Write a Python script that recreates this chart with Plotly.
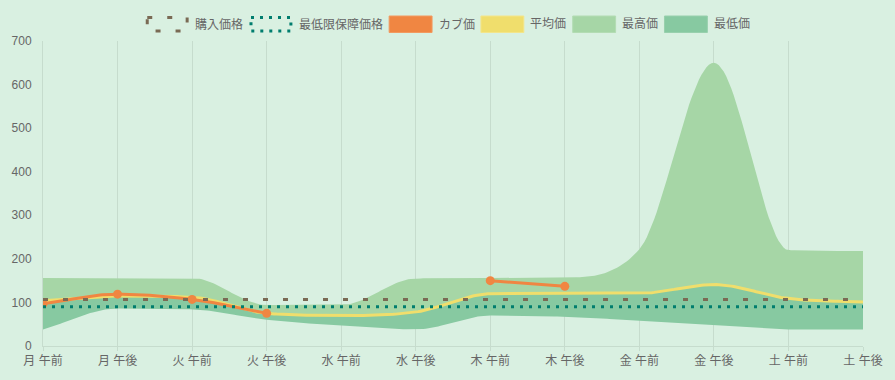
import numpy as np
import plotly.graph_objects as go

# ---------------- data ----------------
categories = ["月 午前", "月 午後", "火 午前", "火 午後", "水 午前", "水 午後",
              "木 午前", "木 午後", "金 午前", "金 午後", "土 午前", "土 午後"]
purchase_price = [107] * 12
guaranteed_min = [90] * 12
turnip_price = [97, 119, 107, 75, None, None, 150, 137, None, None, None, None]
avg_price = [104, 115, 112, 75, 70, 78, 120, 121, 121, 141, 109, 101]
max_price = [156, 156, 156, 94, 94, 155, 156, 157, 222, 650, 220, 218]
min_price = [38, 86, 84, 60, 47, 38, 70, 67, 58, 48, 38, 38]
y_ticks = [0, 100, 200, 300, 400, 500, 600, 700]

legend_names = ["購入価格", "最低限保障価格", "カブ価", "平均価", "最高価", "最低価"]

# ---------------- style ----------------
BG = "#d9f0e1"
C_MAX = "#a6d6a6"
C_MIN = "#87c9a1"
C_AVG = "#f0de6c"
C_TURNIP = "#f08642"
C_BUY = "#7a6a54"
C_GUAR = "#007d6e"
C_GRID = "#c6dccd"
C_TEXT = "#666666"
FONT = "Liberation Sans, Arial, Noto Sans CJK JP, sans-serif"

W, H = 895, 380
ML, MR, MT, MB = 42, 31, 41, 34
PW, PH = W - ML - MR, H - MT - MB


def monotone_curve(xs, ys, steps=30):
    """Render helper reproducing Chart.js 'monotone' cubic interpolation."""
    n = len(ys)
    if n < 2:
        return list(xs), list(ys)
    d = [(ys[i + 1] - ys[i]) / (xs[i + 1] - xs[i]) for i in range(n - 1)]
    m = [0.0] * n
    for i in range(n):
        if i == 0:
            m[i] = d[0]
        elif i == n - 1:
            m[i] = d[-1]
        elif np.sign(d[i - 1]) != np.sign(d[i]):
            m[i] = 0.0
        else:
            m[i] = (d[i - 1] + d[i]) / 2
    for i in range(n - 1):
        if abs(d[i]) < 1e-9:
            m[i] = m[i + 1] = 0.0
            continue
        a, b = m[i] / d[i], m[i + 1] / d[i]
        s = a * a + b * b
        if s <= 9:
            continue
        t = 3 / np.sqrt(s)
        m[i] = a * t * d[i]
        m[i + 1] = b * t * d[i]
    ox, oy = [], []
    for i in range(n - 1):
        h = xs[i + 1] - xs[i]
        ts = np.linspace(0, 1, steps, endpoint=(i == n - 2))
        h00 = 2 * ts**3 - 3 * ts**2 + 1
        h10 = ts**3 - 2 * ts**2 + ts
        h01 = -2 * ts**3 + 3 * ts**2
        h11 = ts**3 - ts**2
        yy = h00 * ys[i] + h10 * h * m[i] + h01 * ys[i + 1] + h11 * h * m[i + 1]
        ox.extend((xs[i] + ts * h).tolist())
        oy.extend(yy.tolist())
    return ox, oy


def curve_with_gaps(values):
    xs_all, ys_all = [], []
    run_x, run_y = [], []
    for i, v in enumerate(values + [None]):
        if v is None:
            if run_x:
                cx, cy = monotone_curve(run_x, run_y)
                if xs_all:
                    xs_all.append(None)
                    ys_all.append(None)
                xs_all.extend(cx)
                ys_all.extend(cy)
            run_x, run_y = [], []
        else:
            run_x.append(i)
            run_y.append(v)
    return xs_all, ys_all


idx = list(range(len(categories)))

fig = go.Figure()

# fills: min -> avg (dark), avg -> max (light)
mx, my = monotone_curve(idx, min_price)
ax_, ay = monotone_curve(idx, avg_price)
xx, xy = monotone_curve(idx, max_price)
fig.add_trace(go.Scatter(x=mx, y=my, mode="lines", line=dict(width=0, color=C_MIN),
                         hoverinfo="skip", showlegend=False, name=legend_names[5]))
fig.add_trace(go.Scatter(x=ax_, y=ay, mode="lines", line=dict(width=0, color=C_MIN),
                         fill="tonexty", fillcolor=C_MIN, hoverinfo="skip", showlegend=False))
fig.add_trace(go.Scatter(x=xx, y=xy, mode="lines", line=dict(width=0, color=C_MAX),
                         fill="tonexty", fillcolor=C_MAX, hoverinfo="skip", showlegend=False,
                         name=legend_names[4]))

# average line
fig.add_trace(go.Scatter(x=ax_, y=ay, mode="lines", line=dict(width=3, color=C_AVG),
                         showlegend=False, name=legend_names[3]))

# turnip price line + points
tx, ty = curve_with_gaps(turnip_price)
fig.add_trace(go.Scatter(x=tx, y=ty, mode="lines", line=dict(width=3, color=C_TURNIP),
                         connectgaps=False, showlegend=False, name=legend_names[2]))
fig.add_trace(go.Scatter(x=idx, y=turnip_price, mode="markers",
                         marker=dict(size=9, color=C_TURNIP), showlegend=False))

# guaranteed minimum (dotted) and purchase price (dashed)
fig.add_trace(go.Scatter(x=idx, y=guaranteed_min, mode="lines",
                         line=dict(width=3, color=C_GUAR, dash="3px,6px"),
                         showlegend=False, name=legend_names[1]))
fig.add_trace(go.Scatter(x=idx, y=purchase_price, mode="lines",
                         line=dict(width=3, color=C_BUY, dash="5px,15px"),
                         showlegend=False, name=legend_names[0]))


# ---------------- custom legend (Chart.js style) ----------------
def px_x(p):
    return (p - ML) / PW


def px_y(p):
    return (H - MB - p) / PH


legend_specs = [
    dict(kind="dash", color=C_BUY, dash="5px,15px"),
    dict(kind="dash", color=C_GUAR, dash="3px,6px"),
    dict(kind="fill", color=C_TURNIP, border="#f29a60"),
    dict(kind="fill", color=C_AVG, border="#f3e58a"),
    dict(kind="fill", color=C_MAX, border="#b3dcb3"),
    dict(kind="fill", color=C_MIN, border="#98d0ad"),
]
text_widths = [48, 84, 36, 36, 36, 36]
box_w, gap_txt, pad = 40, 6, 10
total = sum(box_w + gap_txt + tw for tw in text_widths) + pad * (len(text_widths) - 1)
bx = (W - total) / 2
shapes = []
annotations = []
y_top, y_bot, y_mid = 17.5, 31.0, 24.0
for name, spec, tw in zip(legend_names, legend_specs, text_widths):
    if spec["kind"] == "dash":
        shapes.append(dict(type="rect", xref="paper", yref="paper",
                           x0=px_x(bx), x1=px_x(bx + box_w), y0=px_y(y_top), y1=px_y(y_bot),
                           line=dict(color=spec["color"], width=3, dash=spec["dash"]),
                           fillcolor="rgba(0,0,0,0)", layer="above"))
    else:
        shapes.append(dict(type="rect", xref="paper", yref="paper",
                           x0=px_x(bx - 1.5), x1=px_x(bx + box_w + 1.5),
                           y0=px_y(y_top - 1.5), y1=px_y(y_bot + 1.5),
                           line=dict(color=spec["border"], width=1),
                           fillcolor=spec["color"], layer="above"))
    annotations.append(dict(text=name, xref="paper", yref="paper",
                            x=px_x(bx + box_w + gap_txt), y=px_y(y_mid),
                            xanchor="left", yanchor="middle", showarrow=False,
                            font=dict(size=12, color=C_TEXT, family=FONT)))
    bx += box_w + gap_txt + tw + pad

fig.update_layout(
    width=W, height=H,
    margin=dict(l=ML, r=MR, t=MT, b=MB, pad=0),
    paper_bgcolor=BG, plot_bgcolor=BG,
    font=dict(family=FONT, size=12, color=C_TEXT),
    showlegend=False,
    shapes=shapes, annotations=annotations,
    hovermode=False,
)
fig.update_xaxes(
    range=[0, len(categories) - 1], tickmode="array", tickvals=idx, ticktext=categories,
    showgrid=True, gridcolor=C_GRID, gridwidth=1,
    showline=True, linecolor=C_GRID, linewidth=1,
    ticks="outside", ticklen=4, tickcolor=C_GRID, zeroline=False,
    tickfont=dict(size=12, color=C_TEXT, family=FONT),
)
fig.update_yaxes(
    range=[0, 700], tickmode="array", tickvals=y_ticks,
    showgrid=False, zeroline=False,
    showline=True, linecolor=C_GRID, linewidth=1,
    ticks="outside", ticklen=8, tickcolor="rgba(0,0,0,0)",
    tickfont=dict(size=12, color=C_TEXT, family=FONT),
)

fig.write_html(
    "out.html",
    config={"displayModeBar": False},
    post_script="document.body.style.margin='0';document.body.style.padding='0';"
                "document.body.style.background='" + BG + "';",
)
